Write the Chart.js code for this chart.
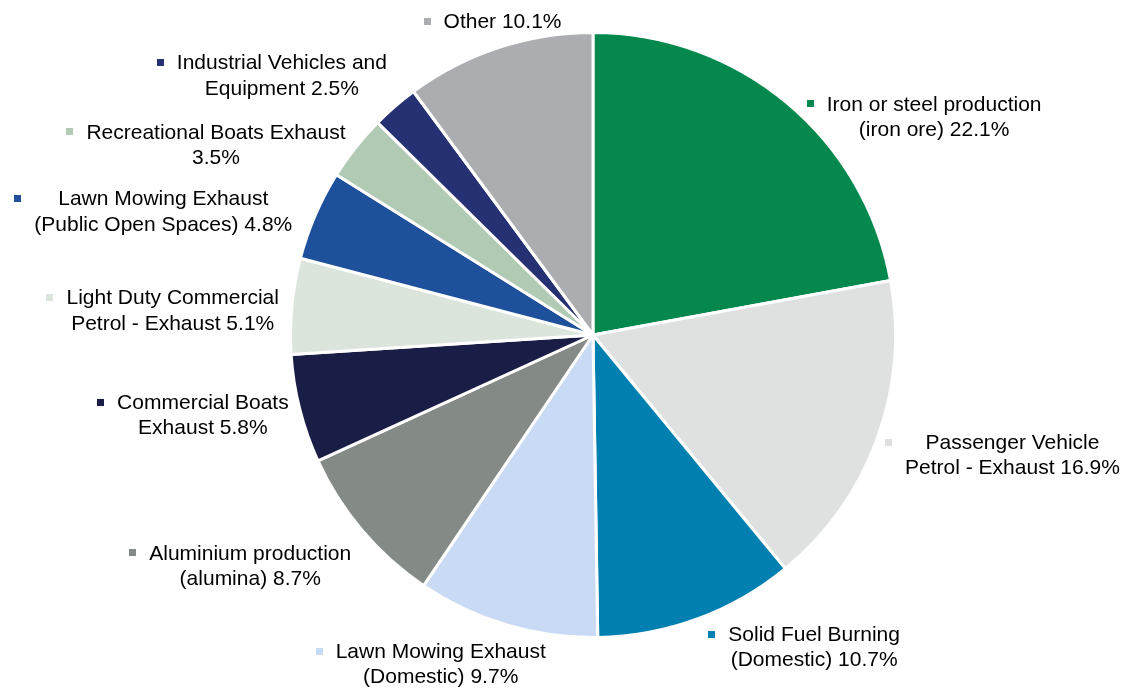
<!DOCTYPE html>
<html>
<head>
<meta charset="utf-8">
<script src="https://cdn.jsdelivr.net/npm/chart.js@4/dist/chart.umd.min.js"></script>
<style>
    html, body { margin: 0; padding: 0; background: #ffffff; }
    #wrap { width: 1127px; height: 688px; position: relative; }
</style>
</head>
<body>
<div id="wrap"><canvas id="pie"></canvas></div>
<script>
// Source names, split into label lines (the share is appended to the last line)
const sourceLines = [
    ['Iron or steel production', '(iron ore)'],
    ['Passenger Vehicle', 'Petrol - Exhaust'],
    ['Solid Fuel Burning', '(Domestic)'],
    ['Lawn Mowing Exhaust', '(Domestic)'],
    ['Aluminium production', '(alumina)'],
    ['Commercial Boats', 'Exhaust'],
    ['Light Duty Commercial', 'Petrol - Exhaust'],
    ['Lawn Mowing Exhaust', '(Public Open Spaces)'],
    ['Recreational Boats Exhaust', ''],
    ['Industrial Vehicles and', 'Equipment'],
    ['Other']
];

// Share of emissions (%)
const shares = [22.1, 16.9, 10.7, 9.7, 8.7, 5.8, 5.1, 4.8, 3.5, 2.5, 10.1];

const sliceColors = [
    '#05884d', '#dfe0e0', '#0080b0', '#c9daf5', '#848b87', '#1a1e47',
    '#dce5dc', '#1e509c', '#b1cab4', '#253172', '#acadb0'
];

// small hand nudges so labels sit where the original put them
const labelNudge = [
    [12, 15], [0, 17], [3, 29], [-76, 40], [-3, 36], [-3, 7],
    [-5, 5], [-15, -3], [-2, -2], [0, -30], [-6, -25]
];

const FONT = '21px "Liberation Sans", Arial, sans-serif';
const LINE_H = 25.5;
const MARK = 7;
const MARK_GAP = 13;

function labelText(i) {
    const lines = sourceLines[i].slice();
    const last = lines.length - 1;
    lines[last] = (lines[last] + ' ' + shares[i].toFixed(1) + '%').trim();
    return lines;
}

// Draws the outside labels with their little colour keys
const outsideLabels = {
    id: 'outsideLabels',
    afterDatasetsDraw(chart) {
        const ctx = chart.ctx;
        const meta = chart.getDatasetMeta(0);
        ctx.save();
        ctx.font = FONT;
        ctx.textBaseline = 'middle';
        ctx.textAlign = 'center';

        meta.data.forEach((arc, i) => {
            const p = arc.getProps(['x', 'y', 'startAngle', 'endAngle', 'outerRadius'], true);
            const mid = (p.startAngle + p.endAngle) / 2;
            const px = p.x + Math.cos(mid) * p.outerRadius;
            const py = p.y + Math.sin(mid) * p.outerRadius;

            const lines = labelText(i);
            const textW = Math.max(...lines.map(l => ctx.measureText(l).width));
            const boxW = MARK + MARK_GAP + textW;
            const boxH = (lines.length - 1) * LINE_H;

            const side = Math.cos(mid);
            let left;
            if (side > 0.33) left = px + 8;
            else if (side < -0.33) left = px - 8 - boxW;
            else left = px - boxW / 2;

            left += labelNudge[i][0];
            const cy = py + labelNudge[i][1];
            const firstY = cy - boxH / 2;
            const textCx = left + MARK + MARK_GAP + textW / 2;

            ctx.fillStyle = sliceColors[i];
            ctx.fillRect(Math.round(left), Math.round(firstY - MARK / 2 - 1), MARK, MARK);

            ctx.fillStyle = '#000000';
            lines.forEach((line, k) => {
                ctx.fillText(line, textCx, firstY + k * LINE_H);
            });
        });
        ctx.restore();
    }
};

document.addEventListener('DOMContentLoaded', () => {
    new Chart(document.getElementById('pie'), {
        type: 'pie',
        data: {
            labels: sourceLines.map(l => l.join(' ').trim()),
            datasets: [{
                data: shares,
                backgroundColor: sliceColors,
                borderColor: '#ffffff',
                borderWidth: 3
            }]
        },
        options: {
            responsive: true,
            maintainAspectRatio: false,
            animation: false,
            layout: {
                padding: { top: 31, bottom: 49, left: 59, right: 0 }
            },
            plugins: {
                legend: { display: false },
                tooltip: { enabled: false }
            }
        },
        plugins: [outsideLabels]
    });
});
</script>
</body>
</html>
